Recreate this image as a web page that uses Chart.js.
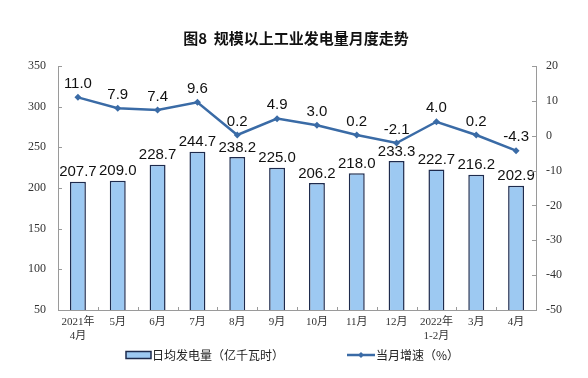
<!DOCTYPE html>
<html><head><meta charset="utf-8">
<script src="https://cdn.jsdelivr.net/npm/chart.js@4/dist/chart.umd.min.js"></script>
<style>html,body{margin:0;padding:0;background:#fff}canvas{display:block}</style>
</head><body>
<canvas id="c" width="588" height="378"></canvas>
<script>
const chartTitle = '图8  规模以上工业发电量月度走势';
const categories = [['2021年','4月'],'5月','6月','7月','8月','9月','10月','11月','12月',['2022年','1-2月'],'3月','4月'];
const dailyOutput = [207.7,209.0,228.7,244.7,238.2,225.0,206.2,218.0,233.3,222.7,216.2,202.9];
const growthRate = [11.0,7.9,7.4,9.6,0.2,4.9,3.0,0.2,-2.1,4.0,0.2,-4.3];
const leftAxis = {min:50, max:350, step:50};
const rightAxis = {min:-50, max:20, step:10};
const barName = '日均发电量（亿千瓦时）';
const lineName = '当月增速（%）';

const BAR_FILL = '#9DC9F2', BAR_EDGE = '#1E2B4D', LINE_COL = '#3A6BA6', AXIS_COL = '#9a9a9a';
const CJK = '"Noto Sans CJK SC"';
const TICK_FONT = '"Liberation Serif", ' + CJK;

const valueLabels = {
  id:'valueLabels',
  afterDatasetsDraw(chart){
    const ctx = chart.ctx;
    ctx.save();
    ctx.font = '15px "Liberation Sans", Arial, sans-serif';
    ctx.fillStyle = '#111';
    ctx.textAlign = 'center';
    ctx.textBaseline = 'bottom';
    chart.data.datasets.forEach((ds, di)=>{
      const meta = chart.getDatasetMeta(di);
      const isBar = ds.type === 'bar';
      meta.data.forEach((el,i)=>{
        ctx.fillText(ds.data[i].toFixed(1), el.x, el.y - (isBar ? 2 : 6));
      });
    });
    ctx.restore();
  }
};

const decor = {
  id:'decor',
  afterDraw(chart){
    const ctx = chart.ctx, a = chart.chartArea;
    ctx.save();
    ctx.font = 'bold 15px ' + CJK;
    ctx.fillStyle = '#111';
    ctx.textAlign = 'center';
    ctx.textBaseline = 'middle';
    ctx.fillText(chartTitle, 296, 38);
    ctx.strokeStyle = AXIS_COL; ctx.lineWidth = 1;
    ctx.beginPath();
    const y = chart.scales.y, y1 = chart.scales.y1;
    y.ticks.forEach((t,i)=>{ const p = Math.round(y.getPixelForTick(i))+0.5; ctx.moveTo(a.left, p); ctx.lineTo(a.left+4, p); });
    y1.ticks.forEach((t,i)=>{ const p = Math.round(y1.getPixelForTick(i))+0.5; ctx.moveTo(a.right, p); ctx.lineTo(a.right-4, p); });
    const w = (a.right - a.left)/categories.length;
    for (let i=1;i<categories.length;i++){ const p = Math.round(a.left + i*w)+0.5; ctx.moveTo(p, a.bottom); ctx.lineTo(p, a.bottom-3); }
    ctx.stroke();
    const ly = 355;
    ctx.fillStyle = BAR_FILL; ctx.fillRect(126, ly-3.5, 25, 7);
    ctx.strokeStyle = BAR_EDGE; ctx.lineWidth = 1.5; ctx.strokeRect(126, ly-3.5, 25, 7);
    ctx.font = '12px ' + CJK; ctx.fillStyle = '#222'; ctx.textAlign = 'left'; ctx.textBaseline = 'middle';
    ctx.fillText(barName, 152, ly);
    ctx.strokeStyle = LINE_COL; ctx.lineWidth = 2.5;
    ctx.beginPath(); ctx.moveTo(347, ly); ctx.lineTo(375, ly); ctx.stroke();
    ctx.fillStyle = LINE_COL;
    ctx.beginPath(); ctx.moveTo(361, ly-3); ctx.lineTo(364, ly); ctx.lineTo(361, ly+3); ctx.lineTo(358, ly); ctx.closePath(); ctx.fill();
    ctx.fillStyle = '#222';
    ctx.fillText(lineName, 376, ly);
    ctx.restore();
  }
};

new Chart(document.getElementById('c'), {
  data: {
    labels: categories,
    datasets: [
      { type:'line', label: lineName, data: growthRate, yAxisID:'y1', order:0,
        borderColor: LINE_COL, backgroundColor: LINE_COL, borderWidth: 2.5,
        pointStyle:'rectRot', pointRadius: 3.5, pointBorderWidth: 0, tension: 0 },
      { type:'bar', label: barName, data: dailyOutput, yAxisID:'y', order:1,
        backgroundColor: BAR_FILL, borderColor: BAR_EDGE, borderWidth: 1.5,
        barPercentage: 0.4, categoryPercentage: 1.0 }
    ]
  },
  options: {
    responsive:false, animation:false,
    layout:{ padding:{ top:66, left:0, right:0, bottom:0 } },
    plugins:{ legend:{display:false}, title:{display:false}, tooltip:{enabled:false} },
    scales:{
      x:{ offset:true,
        grid:{ display:true, drawOnChartArea:false, drawTicks:false },
        border:{ display:true, color:AXIS_COL, width:1 },
        ticks:{ font:{ family:TICK_FONT, size:11 }, color:'#333', padding:6, maxRotation:0, autoSkip:false },
        afterFit(s){ s.height = 68; } },
      y:{ position:'left', min:leftAxis.min, max:leftAxis.max,
        grid:{ display:true, drawOnChartArea:false, drawTicks:false },
        border:{ display:true, color:AXIS_COL, width:1 },
        ticks:{ stepSize:leftAxis.step, font:{ family:TICK_FONT, size:12 }, color:'#333', padding:12 },
        afterFit(s){ s.width = 58; } },
      y1:{ position:'right', min:rightAxis.min, max:rightAxis.max,
        grid:{ display:true, drawOnChartArea:false, drawTicks:false },
        border:{ display:true, color:AXIS_COL, width:1 },
        ticks:{ stepSize:rightAxis.step, font:{ family:TICK_FONT, size:12 }, color:'#333', padding:10 },
        afterFit(s){ s.width = 52; } }
    }
  },
  plugins:[valueLabels, decor]
});
</script>
</body></html>
